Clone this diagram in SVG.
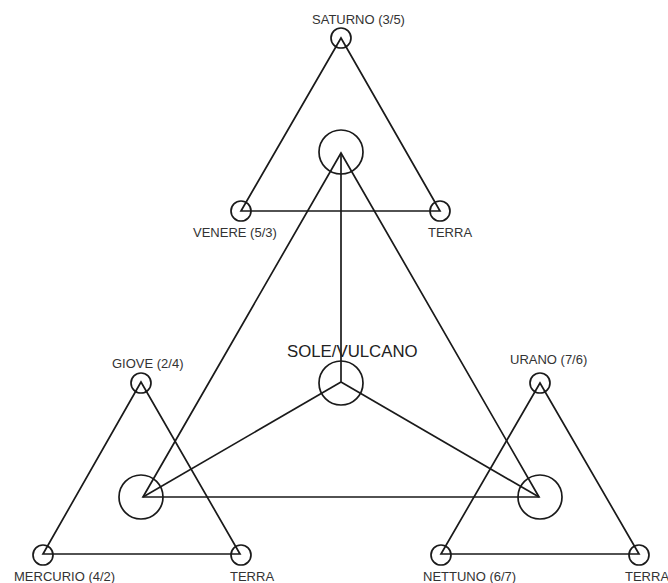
<svg xmlns="http://www.w3.org/2000/svg" width="668" height="583" viewBox="0 0 668 583">
  <style>
    .edge { stroke: #1a1a1a; stroke-width: 1.7; fill: none; stroke-linejoin: miter; }
    .planet { stroke: #1a1a1a; stroke-width: 1.7; fill: none; }
    .lbl { font-family: "Liberation Sans", Arial, sans-serif; font-size: 13px; fill: #333; }
    .big { font-size: 16.8px; fill: #222; }
  </style>
  <rect width="668" height="583" fill="#fff"/>

  <!-- connectors: four triangles plus the spokes from the centre -->
  <g id="connectors">
    <polygon class="edge" points="341,38 241,211 440,211"/>
    <polygon class="edge" points="341,153 143,497 539,497"/>
    <line class="edge" x1="341" y1="153" x2="341" y2="382"/>
    <line class="edge" x1="341" y1="382" x2="143" y2="497"/>
    <line class="edge" x1="341" y1="382" x2="539" y2="497"/>
    <polygon class="edge" points="141,382 43,554 240,554"/>
    <polygon class="edge" points="540,383 441,554 639,554"/>
  </g>

  <g id="saturno">
    <circle class="planet" cx="341" cy="38" r="10"/>
    <text class="lbl" x="312" y="24">SATURNO (3/5)</text>
  </g>
  <g id="venere">
    <circle class="planet" cx="241" cy="211" r="10"/>
    <text class="lbl" x="193" y="237">VENERE (5/3)</text>
  </g>
  <g id="terra-top">
    <circle class="planet" cx="440" cy="211" r="10"/>
    <text class="lbl" x="428" y="237">TERRA</text>
  </g>
  <g id="vertice-alto">
    <circle class="planet" cx="341" cy="152" r="22"/>
  </g>
  <g id="sole-vulcano">
    <circle class="planet" cx="341" cy="383" r="22"/>
    <text class="lbl big" x="287" y="357">SOLE/VULCANO</text>
  </g>
  <g id="vertice-sinistro">
    <circle class="planet" cx="141" cy="497" r="22"/>
  </g>
  <g id="vertice-destro">
    <circle class="planet" cx="540" cy="497" r="22"/>
  </g>
  <g id="giove">
    <circle class="planet" cx="141" cy="383" r="10"/>
    <text class="lbl" x="112" y="368">GIOVE (2/4)</text>
  </g>
  <g id="mercurio">
    <circle class="planet" cx="43" cy="555" r="10"/>
    <text class="lbl" x="14" y="581">MERCURIO (4/2)</text>
  </g>
  <g id="terra-sinistra">
    <circle class="planet" cx="241" cy="555" r="10"/>
    <text class="lbl" x="230" y="581">TERRA</text>
  </g>
  <g id="urano">
    <circle class="planet" cx="540" cy="383" r="10"/>
    <text class="lbl" x="510" y="364">URANO (7/6)</text>
  </g>
  <g id="nettuno">
    <circle class="planet" cx="441" cy="555" r="10"/>
    <text class="lbl" x="423" y="581">NETTUNO (6/7)</text>
  </g>
  <g id="terra-destra">
    <circle class="planet" cx="639" cy="555" r="10"/>
    <text class="lbl" x="625" y="581">TERRA</text>
  </g>
</svg>
